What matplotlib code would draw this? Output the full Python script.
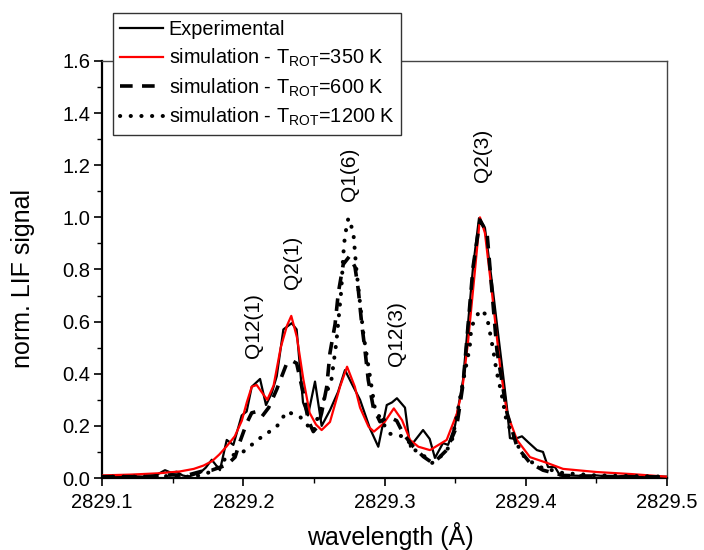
import matplotlib
matplotlib.use("Agg")
import matplotlib.pyplot as plt
from matplotlib.ticker import MultipleLocator

plt.rcParams['font.family'] = ['Liberation Sans', 'DejaVu Sans']
plt.rcParams['mathtext.fontset'] = 'custom'
plt.rcParams['mathtext.rm'] = 'Liberation Sans'
plt.rcParams['mathtext.it'] = 'Liberation Sans'

# ---------------- data ----------------
exp_x = [2829.100, 2829.110, 2829.120, 2829.130, 2829.138, 2829.1446, 2829.149, 2829.1529,
         2829.157, 2829.161, 2829.165, 2829.1694, 2829.1735, 2829.1777, 2829.1835, 2829.1883,
         2829.1930, 2829.1989, 2829.2024, 2829.2060, 2829.2119, 2829.2161, 2829.2201, 2829.2237,
         2829.2284, 2829.2343, 2829.2378, 2829.2423, 2829.2458, 2829.2508, 2829.2555, 2829.2614,
         2829.2671, 2829.2720, 2829.2770, 2829.2827, 2829.2897, 2829.2956, 2829.3016, 2829.3053,
         2829.3088, 2829.3145, 2829.3181, 2829.3273, 2829.3320, 2829.3357, 2829.3414, 2829.3450,
         2829.3499, 2829.3556, 2829.3627, 2829.3669, 2829.3711, 2829.3761, 2829.3796, 2829.3832,
         2829.3867, 2829.3888, 2829.3924, 2829.3973, 2829.4016, 2829.4079, 2829.4122, 2829.4158,
         2829.4207, 2829.4242, 2829.4292, 2829.440, 2829.450, 2829.460, 2829.470, 2829.480,
         2829.490, 2829.500]
exp_y = [0.005, 0.005, 0.008, 0.005, 0.010, 0.030, 0.020, 0.024,
         0.010, 0.005, 0.012, 0.020, 0.040, 0.070, 0.030, 0.146,
         0.127, 0.240, 0.255, 0.350, 0.380, 0.280, 0.325, 0.390,
         0.570, 0.594, 0.570, 0.290, 0.240, 0.370, 0.200, 0.260,
         0.330, 0.414, 0.360, 0.300, 0.190, 0.120, 0.280, 0.290,
         0.306, 0.270, 0.120, 0.184, 0.150, 0.077, 0.134, 0.127,
         0.200, 0.376, 0.810, 0.997, 0.960, 0.750, 0.590, 0.430,
         0.270, 0.153, 0.150, 0.160, 0.138, 0.107, 0.100, 0.042,
         0.042, 0.010, 0.010, 0.008, 0.010, 0.005, 0.008, 0.005,
         0.006, 0.005]

red_x = [2829.100, 2829.120, 2829.140, 2829.155, 2829.165, 2829.172, 2829.178, 2829.183,
         2829.188, 2829.194, 2829.199, 2829.2025, 2829.206, 2829.2095, 2829.213, 2829.217,
         2829.2215, 2829.2265, 2829.231, 2829.234, 2829.238, 2829.2425, 2829.247, 2829.2515,
         2829.2555, 2829.2614, 2829.2685, 2829.2735, 2829.279, 2829.2827, 2829.2887, 2829.2925,
         2829.2995, 2829.3066, 2829.3124, 2829.3181, 2829.324, 2829.3322, 2829.344, 2829.3513,
         2829.355, 2829.3591, 2829.3641, 2829.3676, 2829.3711, 2829.3761, 2829.3818, 2829.3867,
         2829.3938, 2829.403, 2829.415, 2829.4264, 2829.450, 2829.475, 2829.500]
red_y = [0.010, 0.013, 0.018, 0.025, 0.035, 0.048, 0.065, 0.090,
         0.120, 0.160, 0.220, 0.290, 0.350, 0.357, 0.330, 0.300,
         0.355, 0.500, 0.585, 0.622, 0.540, 0.380, 0.250, 0.205,
         0.184, 0.215, 0.350, 0.427, 0.350, 0.270, 0.197, 0.178,
         0.210, 0.267, 0.222, 0.146, 0.120, 0.107, 0.146, 0.248,
         0.338, 0.520, 0.800, 1.000, 0.940, 0.710, 0.430, 0.250,
         0.146, 0.080, 0.058, 0.035, 0.023, 0.015, 0.005]

dash_x = [2829.100, 2829.130, 2829.150, 2829.160, 2829.170, 2829.1777, 2829.1883, 2829.1942,
          2829.1977, 2829.2024, 2829.2060, 2829.2095, 2829.2131, 2829.2180, 2829.2237, 2829.2308,
          2829.2345, 2829.2378, 2829.2425, 2829.2461, 2829.2496, 2829.2530, 2829.2555, 2829.2591,
          2829.2614, 2829.2650, 2829.2673, 2829.2708, 2829.2751, 2829.2791, 2829.2815, 2829.2839,
          2829.2862, 2829.2885, 2829.2921, 2829.2968, 2829.3027, 2829.3086, 2829.3133, 2829.3204,
          2829.3275, 2829.3345, 2829.3440, 2829.3511, 2829.3556, 2829.3627, 2829.3676, 2829.3726,
          2829.3796, 2829.3867, 2829.3938, 2829.4030, 2829.4122, 2829.4264, 2829.450, 2829.500]
dash_y = [0.005, 0.005, 0.012, 0.010, 0.025, 0.030, 0.050, 0.080,
          0.140, 0.210, 0.250, 0.255, 0.235, 0.270, 0.340, 0.440,
          0.450, 0.440, 0.325, 0.220, 0.178, 0.200, 0.250, 0.350,
          0.480, 0.590, 0.710, 0.820, 0.850, 0.810, 0.720, 0.590,
          0.490, 0.376, 0.270, 0.216, 0.235, 0.220, 0.170, 0.120,
          0.082, 0.056, 0.107, 0.197, 0.360, 0.810, 0.990, 0.940,
          0.490, 0.250, 0.120, 0.058, 0.030, 0.010, 0.006, 0.004]

dot_x = [2829.100, 2829.130, 2829.150, 2829.160, 2829.170, 2829.180, 2829.1883, 2829.1998,
         2829.2111, 2829.2237, 2829.2308, 2829.2402, 2829.2494, 2829.2563, 2829.2624, 2829.2659,
         2829.2694, 2829.2708, 2829.2720, 2829.2744, 2829.2779, 2829.2800, 2829.2827, 2829.2850,
         2829.2897, 2829.2931, 2829.2978, 2829.3037, 2829.3145, 2829.3216, 2829.3273, 2829.3335,
         2829.3430, 2829.3476, 2829.3511, 2829.3556, 2829.3603, 2829.3615, 2829.3676, 2829.3723,
         2829.3746, 2829.3770, 2829.3793, 2829.3828, 2829.3863, 2829.3934, 2829.3993, 2829.4100,
         2829.4264, 2829.450, 2829.500]
dot_y = [0.005, 0.005, 0.008, 0.005, 0.010, 0.030, 0.080, 0.100,
         0.150, 0.197, 0.255, 0.235, 0.178, 0.290, 0.376, 0.520,
         0.720, 0.856, 0.930, 0.997, 0.945, 0.805, 0.670, 0.555,
         0.390, 0.270, 0.220, 0.170, 0.158, 0.107, 0.088, 0.057,
         0.096, 0.140, 0.235, 0.370, 0.500, 0.580, 0.645, 0.625,
         0.560, 0.490, 0.410, 0.325, 0.220, 0.134, 0.077, 0.042,
         0.019, 0.010, 0.005]

labels = ['Experimental',
          r'simulation - T$_{\mathregular{ROT}}$=350 K',
          r'simulation - T$_{\mathregular{ROT}}$=600 K',
          r'simulation - T$_{\mathregular{ROT}}$=1200 K']

ann_text = ['Q12(1)', 'Q2(1)', 'Q1(6)', 'Q12(3)', 'Q2(3)']
ann_x = [2829.2076, 2829.2349, 2829.2749, 2829.3088, 2829.3694]
ann_y = [0.583, 0.827, 1.167, 0.553, 1.236]

x_ticks = [2829.1, 2829.2, 2829.3, 2829.4, 2829.5]
y_ticks = [0.0, 0.2, 0.4, 0.6, 0.8, 1.0, 1.2, 1.4, 1.6]

# ---------------- figure ----------------
fig = plt.figure(figsize=(7.04, 5.5), dpi=100)
ax = fig.add_axes([102/704, (550-478)/550, 565/704, 417/550])

ax.plot(exp_x, exp_y, color='black', lw=1.6, label=labels[0], zorder=3)
ax.plot(red_x, red_y, color='#ff0000', lw=1.6, label=labels[1], zorder=4)
ax.plot(dash_x, dash_y, color='black', lw=2.6, linestyle=(0, (3.5, 2.6)),
        dash_capstyle='butt', label=labels[2], zorder=5)
ax.plot(dot_x, dot_y, color='black', lw=2.9, linestyle=(0, (0.05, 2.6)),
        dash_capstyle='round', label=labels[3], zorder=5)

for t, x, y in zip(ann_text, ann_x, ann_y):
    ax.text(x, y, t, rotation=90, ha='center', va='center', fontsize=15)

ax.set_xlim(2829.1, 2829.5)
ax.set_ylim(0.0, 1.6)
ax.set_xticks(x_ticks)
ax.set_xticklabels([f'{v:.1f}' for v in x_ticks])
ax.set_yticks(y_ticks)
ax.set_yticklabels([f'{v:.1f}' for v in y_ticks])
ax.xaxis.set_minor_locator(MultipleLocator(0.05))
ax.yaxis.set_minor_locator(MultipleLocator(0.1))
ax.tick_params(which='major', direction='out', length=6, width=1.2, labelsize=14.5,
               top=False, right=False)
ax.tick_params(axis='x', which='major', pad=4.5)
ax.tick_params(axis='y', which='major', pad=2.5)
ax.tick_params(which='minor', direction='out', length=3.5, width=1.0, top=False, right=False)

for s in ['left', 'bottom']:
    ax.spines[s].set_linewidth(1.6)
    ax.spines[s].set_color('black')
for s in ['top', 'right']:
    ax.spines[s].set_linewidth(1.0)
    ax.spines[s].set_color('#444444')

ax.set_xlabel('wavelength (Å)', fontsize=18)
ax.set_ylabel('norm. LIF signal', fontsize=18)
ax.xaxis.label.set_va('baseline')
ax.xaxis.set_label_coords(0.51, (478 - 545) / 417)
ax.yaxis.set_label_coords(-0.118, 0.478)

leg = ax.legend(loc='upper left', bbox_to_anchor=((113-102)/565, (478-13)/417),
                borderaxespad=0, fontsize=14.3, handlelength=2.15, handletextpad=0.3,
                labelspacing=0.38, borderpad=0.35, fancybox=False, framealpha=1,
                edgecolor='#333333')
leg.get_frame().set_linewidth(1.0)
leg.set_zorder(10)

fig.savefig('out.png', dpi=100)
